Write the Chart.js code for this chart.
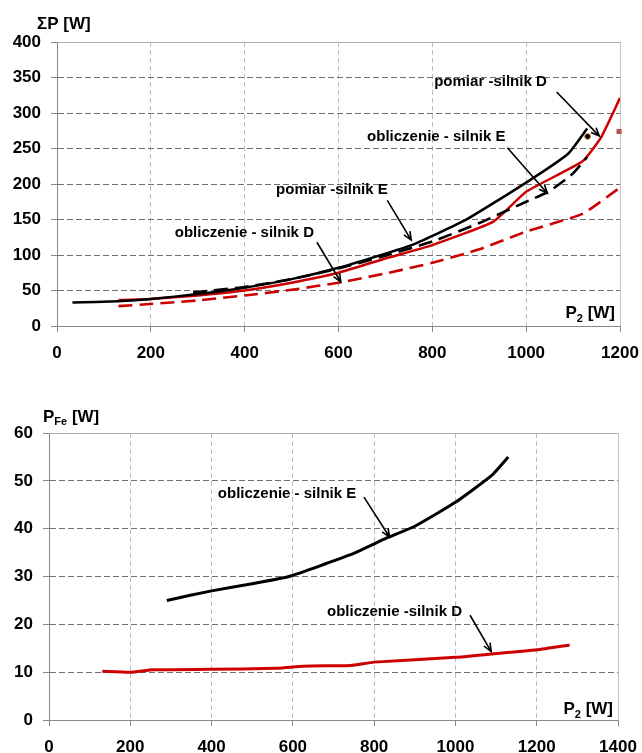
<!DOCTYPE html>
<html>
<head>
<meta charset="utf-8">
<script src="https://cdn.jsdelivr.net/npm/chart.js@4.4.1/dist/chart.umd.min.js"></script>
<style>
  body { margin: 0; background: #fff; }
  canvas { position: absolute; left: 0; }
  #c1 { top: 0; }
  #c2 { top: 390px; }
</style>
</head>
<body>
<canvas id="c1" width="642" height="370"></canvas>
<canvas id="c2" width="642" height="363"></canvas>
<script>
// ---- top chart: sum of losses vs P2 ----
const pomiarE_P2 = [33, 130, 200, 300, 400, 500, 600, 700, 760, 870, 1000, 1090, 1130];
const pomiarE_P  = [33, 35, 38, 45, 54, 66, 82, 102, 115, 149, 202, 243, 278];

const pomiarD_P2 = [131, 200, 300, 400, 500, 600, 700, 800, 930, 1000, 1120, 1160, 1200];
const pomiarD_P  = [36.5, 38, 43, 50, 61, 75, 95, 114, 147, 189, 232, 266, 321];

const oblD_P2 = [131, 200, 300, 400, 500, 600, 700, 800, 900, 1000, 1120, 1200];
const oblD_P  = [28, 31, 36, 43, 51, 61, 74, 89, 108, 133, 158, 195];

const oblE_P2 = [290, 400, 500, 600, 700, 800, 900, 1000, 1050, 1100, 1130];
const oblE_P  = [47, 55, 66, 81, 99, 119, 145, 175, 190, 215, 238];

const dotPoint = [1131, 267];
const squarePoint = [1198, 274];

// ---- bottom chart: iron losses vs P2 ----
const feE_P2 = [290, 400, 500, 590, 740, 830, 900, 1000, 1090, 1130];
const feE_P  = [25, 27, 28.5, 30, 34.5, 38, 40.5, 45.5, 51.2, 55];

const feD_P2 = [131, 200, 257, 400, 554, 600, 645, 742, 800, 1000, 1088, 1200, 1281];
const feD_P  = [10.2, 10.0, 10.5, 10.6, 10.8, 11.1, 11.3, 11.4, 12.1, 13.1, 13.8, 14.7, 15.7];

const FONT = '"Liberation Sans", Arial, sans-serif';
const RED = '#cc0000';

const pts = (xs, ys) => xs.map((x, i) => ({ x: x, y: ys[i] }));

function lineSet(xs, ys, color, dashed, width) {
  return {
    data: pts(xs, ys),
    borderColor: color,
    borderWidth: width,
    borderDash: dashed ? [14, 7] : [],
    pointRadius: 0,
    tension: 0.15,
    fill: false
  };
}

function scales(xMax, xStep, yMax, yStep, yWidth, xHeight) {
  const tickFont = { family: FONT, size: 17, weight: 'bold' };
  const isLast = (ctx, max) => ctx.tick && ctx.tick.value === max;
  return {
    x: {
      type: 'linear', min: 0, max: xMax,
      ticks: { stepSize: xStep, color: '#000', font: tickFont, padding: 11, maxRotation: 0, callback: v => String(v) },
      grid: { color: ctx => isLast(ctx, xMax) ? '#c4c4c4' : '#bdbdbd', tickColor: '#8a8a8a', tickLength: 6 },
      border: { color: '#8a8a8a', dash: ctx => isLast(ctx, xMax) ? [] : [5, 3] },
      afterFit: s => { s.height = xHeight; s.paddingLeft = 0; s.paddingRight = 0; }
    },
    y: {
      type: 'linear', min: 0, max: yMax,
      ticks: { stepSize: yStep, color: '#000', font: tickFont, padding: 10, callback: v => String(v) },
      grid: { color: ctx => isLast(ctx, yMax) ? '#b0b0b0' : '#6e6e6e', tickColor: '#8a8a8a', tickLength: 6 },
      border: { color: '#8a8a8a', dash: ctx => isLast(ctx, yMax) ? [] : [6, 3] },
      afterFit: s => { s.width = yWidth; s.paddingTop = 0; s.paddingBottom = 0; }
    }
  };
}

// text made of pieces, e.g. P with a subscript
function drawParts(ctx, parts, x, y, alignRight) {
  let w = 0;
  parts.forEach(p => { ctx.font = 'bold ' + p.size + 'px ' + FONT; w += ctx.measureText(p.t).width; });
  let cx = alignRight ? x - w : x;
  parts.forEach(p => {
    ctx.font = 'bold ' + p.size + 'px ' + FONT;
    ctx.fillText(p.t, cx, y + (p.dy || 0));
    cx += ctx.measureText(p.t).width;
  });
}

function arrow(ctx, x1, y1, x2, y2) {
  const a = Math.atan2(y2 - y1, x2 - x1);
  const h = 9;
  ctx.beginPath();
  ctx.moveTo(x1, y1);
  ctx.lineTo(x2, y2);
  ctx.moveTo(x2 - h * Math.cos(a - 0.4), y2 - h * Math.sin(a - 0.4));
  ctx.lineTo(x2, y2);
  ctx.lineTo(x2 - h * Math.cos(a + 0.4), y2 - h * Math.sin(a + 0.4));
  ctx.stroke();
}

const notes = {
  id: 'notes',
  afterDraw(chart, args, opts) {
    const { ctx, chartArea: area, scales: { x, y } } = chart;
    ctx.save();
    ctx.fillStyle = '#000';
    ctx.strokeStyle = '#000';
    ctx.lineWidth = 1.6;
    ctx.textBaseline = 'alphabetic';
    (opts.labels || []).forEach(l => {
      ctx.font = 'bold 15px ' + FONT;
      ctx.fillText(l.text, x.getPixelForValue(l.at[0]), y.getPixelForValue(l.at[1]));
      arrow(ctx, x.getPixelForValue(l.from[0]), y.getPixelForValue(l.from[1]),
                 x.getPixelForValue(l.to[0]), y.getPixelForValue(l.to[1]));
    });
    drawParts(ctx, opts.yTitle, area.left + opts.yTitleDx, area.top + opts.yTitleDy, false);
    drawParts(ctx, [{ t: 'P', size: 17 }, { t: '2', size: 11, dy: 4 }, { t: ' [W]', size: 17 }],
      area.right - 5, area.bottom + opts.xTitleDy, true);
    ctx.restore();
  }
};

const common = {
  responsive: false,
  animation: false,
  plugins: { legend: { display: false }, tooltip: { enabled: false } }
};

new Chart(document.getElementById('c1'), {
  type: 'line',
  data: {
    datasets: [
      lineSet(oblD_P2, oblD_P, RED, true, 2.6),
      lineSet(oblE_P2, oblE_P, '#000', true, 2.6),
      lineSet(pomiarE_P2, pomiarE_P, '#000', false, 2.5),
      lineSet(pomiarD_P2, pomiarD_P, RED, false, 2.5),
      { data: [{ x: dotPoint[0], y: dotPoint[1] }], showLine: false, pointRadius: 3,
        pointBackgroundColor: '#000', pointBorderColor: '#f0a040', pointBorderWidth: 1, clip: false },
      { data: [{ x: squarePoint[0], y: squarePoint[1] }], showLine: false, pointStyle: 'rect', pointRadius: 3.6,
        pointBackgroundColor: '#c0504d', pointBorderColor: '#c0504d', pointBorderWidth: 0, clip: false }
    ]
  },
  options: Object.assign({}, common, {
    layout: { padding: { top: 42, right: 22, left: 0, bottom: 0 } },
    scales: scales(1200, 200, 400, 50, 57, 44),
    plugins: Object.assign({}, common.plugins, {
      notes: {
        labels: [
          { text: 'pomiar -silnik D', at: [804, 338], from: [1065, 329.6], to: [1156, 267.5] },
          { text: 'obliczenie - silnik E', at: [661, 260.8], from: [960, 251], to: [1045, 187] },
          { text: 'pomiar -silnik E', at: [467, 185.4], from: [704, 177], to: [755, 121] },
          { text: 'obliczenie - silnik D', at: [251, 124.9], from: [554, 118], to: [605, 62] }
        ],
        yTitle: [{ t: '\u03A3P [W]', size: 17 }],
        yTitleDx: -20, yTitleDy: -13,
        xTitleDy: -8
      }
    })
  }),
  plugins: [notes]
});

new Chart(document.getElementById('c2'), {
  type: 'line',
  data: {
    datasets: [
      lineSet(feE_P2, feE_P, '#000', false, 3),
      lineSet(feD_P2, feD_P, RED, false, 3)
    ]
  },
  options: Object.assign({}, common, {
    layout: { padding: { top: 43, right: 24, left: 0, bottom: 0 } },
    scales: scales(1400, 200, 60, 10, 49, 33),
    plugins: Object.assign({}, common.plugins, {
      notes: {
        labels: [
          { text: 'obliczenie - silnik E', at: [415.5, 46.5], from: [775, 46.6], to: [838, 38.25] },
          { text: 'obliczenie -silnik D', at: [684, 21.8], from: [1036, 21.9], to: [1088, 14.3] }
        ],
        yTitle: [{ t: 'P', size: 17 }, { t: 'Fe', size: 11, dy: 3 }, { t: ' [W]', size: 17 }],
        yTitleDx: -6, yTitleDy: -11,
        xTitleDy: -6
      }
    })
  }),
  plugins: [notes]
});
</script>
</body>
</html>
